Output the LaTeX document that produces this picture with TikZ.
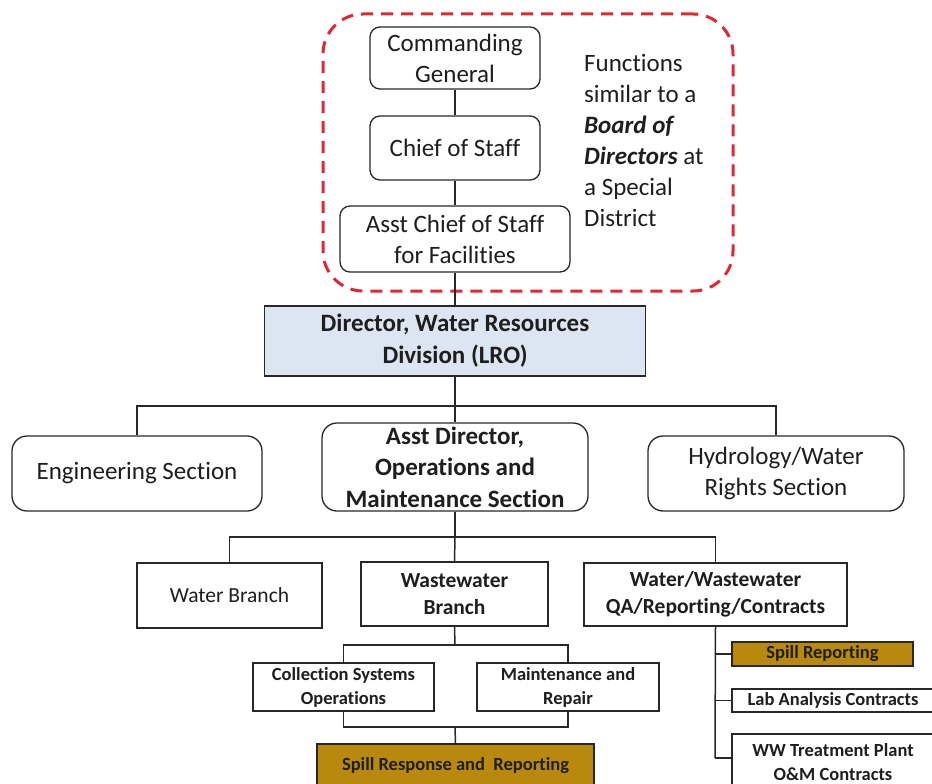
\documentclass[tikz,border=0pt]{standalone}
\usepackage{fontspec}
\setmainfont{Carlito}[Ligatures=NoCommon]
\definecolor{txt}{RGB}{30,30,30}
\definecolor{ln}{RGB}{40,40,40}
\definecolor{gold}{RGB}{184,137,12}
\definecolor{lblue}{RGB}{220,230,242}
\definecolor{dred}{RGB}{224,40,50}
\tikzset{
  rbox/.style={draw=ln, line width=1.3pt, rounded corners=10pt, fill=white, text=txt, align=center, inner sep=0pt, font=\fontsize{25}{31}\selectfont},
  sbox/.style={draw=ln, line width=1.3pt, rounded corners=15pt, fill=white, text=txt, align=center, inner sep=0pt, font=\fontsize{25}{31}\selectfont},
  bbox/.style={draw=ln, line width=1.3pt, fill=white, text=txt, align=center, inner sep=0pt, font=\fontsize{21.5}{27}\selectfont},
  smallbox/.style={draw=ln, line width=1.3pt, fill=white, text=txt, align=center, inner sep=0pt, font=\bfseries\fontsize{18.5}{24}\selectfont},
  conn/.style={draw=ln, line width=1.5pt},
  dashbox/.style={draw=dred, line width=3pt, dash pattern=on 12pt off 8pt, rounded corners=40pt, inner sep=0pt}
}
\begin{document}
\begin{tikzpicture}[x=1pt,y=-1pt]
\useasboundingbox (0,0) rectangle (932,784);
% group
\node[dashbox, minimum width=410pt, minimum height=277pt] (grp) at (528,152.5) {};
% top chain
\node[rbox, minimum width=170pt, minimum height=62pt] (cg) at (455,58) {Commanding\\General};
\node[rbox, minimum width=170pt, minimum height=64pt] (cos) at (455,148) {Chief of Staff};
\node[rbox, minimum width=230pt, minimum height=66pt] (acs) at (455,239) {Asst Chief of Staff\\for Facilities};
\node[anchor=west, align=left, text=txt, inner sep=0pt, font=\fontsize{25}{31}\selectfont] (fn) at (584,140)
  {Functions\\similar to a\\\textbf{\textit{Board of}}\\\textbf{\textit{Directors}} at\\a Special\\District};
% director
\node[draw=ln, line width=1.3pt, fill=lblue, text=txt, align=center, inner sep=0pt, font=\bfseries\fontsize{25}{32}\selectfont,
  minimum width=381pt, minimum height=70pt] (dir) at (455,341) {Director, Water Resources\\Division (LRO)};
% sections
\node[sbox, minimum width=250pt, minimum height=75pt] (eng) at (137,473.5) {Engineering Section};
\node[sbox, minimum width=266pt, minimum height=88pt, font=\bfseries\fontsize{25}{31.5}\selectfont] (ad) at (455,467) {Asst Director,\\Operations and\\Maintenance Section};
\node[sbox, minimum width=256pt, minimum height=75pt] (hyd) at (776,473.5) {Hydrology/Water\\Rights Section};
% branches
\node[bbox, minimum width=185pt, minimum height=65pt] (wb) at (229.5,595.5) {Water Branch};
\node[bbox, minimum width=187pt, minimum height=64pt, font=\bfseries\fontsize{21.5}{27}\selectfont] (ww) at (454.5,594) {Wastewater\\Branch};
\node[bbox, minimum width=263pt, minimum height=63pt, font=\bfseries\fontsize{21.5}{27}\selectfont] (qa) at (715.5,594.5) {Water/Wastewater\\QA/Reporting/Contracts};
% wastewater children
\node[smallbox, minimum width=181pt, minimum height=48pt] (cso) at (343.5,687) {Collection Systems\\Operations};
\node[smallbox, minimum width=182pt, minimum height=48pt] (mr) at (568,687) {Maintenance and\\Repair};
\node[smallbox, fill=gold, minimum width=277pt, minimum height=44pt] (srr) at (455.5,766) {Spill Response and~~Reporting};
% QA children
\node[smallbox, fill=gold, minimum width=181pt, minimum height=24pt] (sr) at (822.5,654) {Spill Reporting};
\node[smallbox, minimum width=202pt, minimum height=23pt] (lab) at (833,700.5) {Lab Analysis Contracts};
\node[smallbox, minimum width=202pt, minimum height=56pt] (wwt) at (833,762) {WW Treatment Plant\\O\&M Contracts};
% coordinates
\coordinate (h1) at (455,406);
\coordinate (h2) at (455,537);
\coordinate (h3) at (455,645);
\coordinate (h4) at (455,727);
\coordinate (qe) at (715,758);
% connectors
\draw[conn] (cg.south) -- (cos.north);
\draw[conn] (cos.south) -- (acs.north);
\draw[conn] (acs.south) -- (dir.north);
\draw[conn] (dir.south) -- (h1);
\draw[conn] (eng.north) |- (h1) -| (hyd.north);
\draw[conn] (h1) -- (ad.north);
\draw[conn] (ad.south) -- (h2);
\draw[conn] (wb.north) |- (h2) -| (qa.north);
\draw[conn] (h2) -- (ww.north);
\draw[conn] (ww.south) -- (h3);
\draw[conn] (cso.north) |- (h3) -| (mr.north);
\draw[conn] (cso.south) |- (h4) -| (mr.south);
\draw[conn] (h4) -- (srr.north);
\draw[conn] (qa.south) -- (qe);
\draw[conn] (qa.south |- sr.west) -- (sr.west);
\draw[conn] (qa.south |- lab.west) -- (lab.west);
\draw[conn] (qe) -- (qe -| wwt.west);
\end{tikzpicture}
\end{document}
